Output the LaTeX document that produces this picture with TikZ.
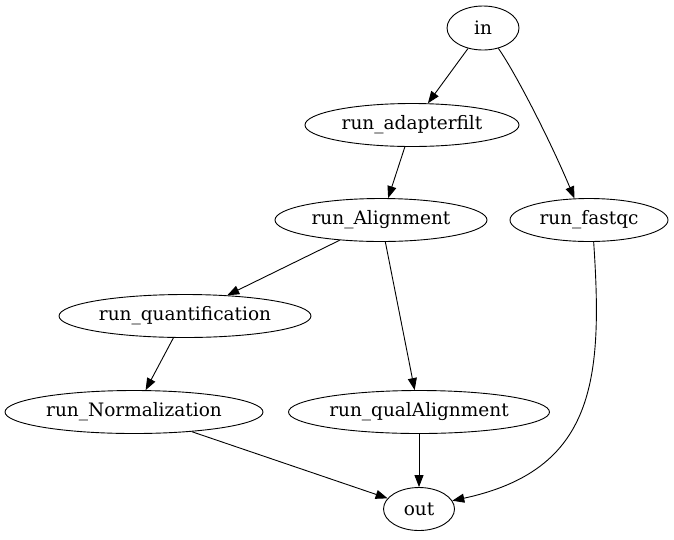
\documentclass[tikz,border=0pt]{standalone}
\usepackage{fontspec}
\setmainfont{DejaVu Serif}
\usetikzlibrary{shapes.geometric,arrows.meta}
\begin{document}
\begin{tikzpicture}[x=1pt,y=-1pt,
  nd/.style={draw,ellipse,inner sep=0pt,line width=0.9pt,font=\fontsize{18.5}{22}\selectfont},
  edge/.style={line width=0.9pt,-{Triangle[length=12pt,width=9pt]}}]
\useasboundingbox (0,0) rectangle (674,539);
\node[nd,minimum width=72pt,minimum height=44pt] (in) at (483,28) {in};
\node[nd,minimum width=214pt,minimum height=43pt] (adapt) at (412,125) {run\_adapterfilt};
\node[nd,minimum width=212pt,minimum height=43pt] (align) at (381,220) {run\_Alignment};
\node[nd,minimum width=158pt,minimum height=43pt] (fastqc) at (589,220) {run\_fastqc};
\node[nd,minimum width=252pt,minimum height=43pt] (quant) at (185,316) {run\_quantification};
\node[nd,minimum width=258pt,minimum height=43pt] (norm) at (134,412) {run\_Normalization};
\node[nd,minimum width=261pt,minimum height=43pt] (qual) at (419,412) {run\_qualAlignment};
\node[nd,minimum width=71pt,minimum height=43pt] (out) at (419,509) {out};
\draw[edge] (in) -- (adapt);
\draw[edge] (in.-53) .. controls (515,72) and (550,140) .. (fastqc.124);
\draw[edge] (adapt) -- (align);
\draw[edge] (align) -- (quant);
\draw[edge] (align) -- (qual);
\draw[edge] (fastqc.-78) .. controls (603,380) and (595,470) .. (out.14);
\draw[edge] (quant) -- (norm);
\draw[edge] (norm) -- (out);
\draw[edge] (qual) -- (out);
\end{tikzpicture}
\end{document}
